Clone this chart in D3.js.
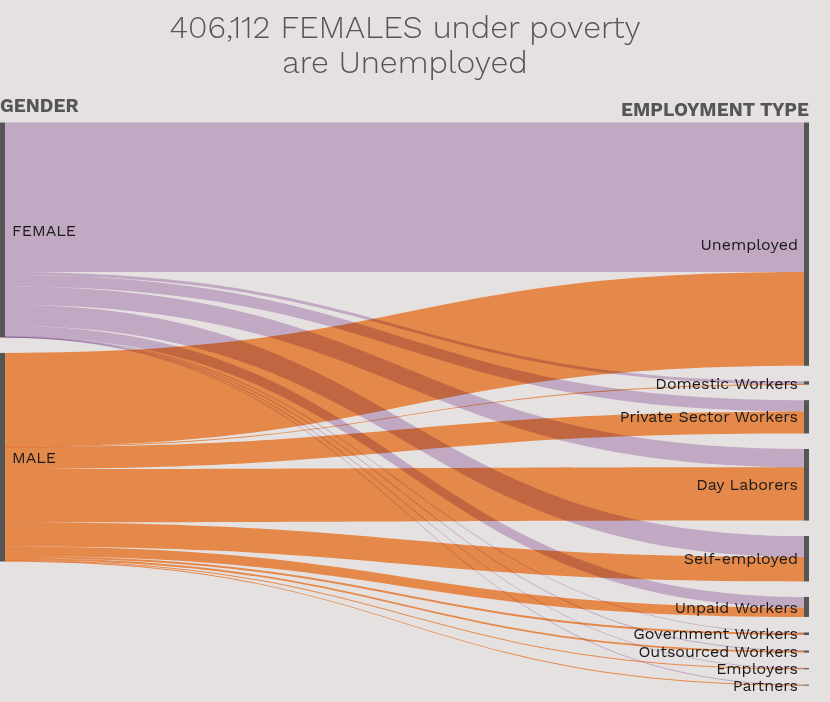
<!DOCTYPE html>
<html>
<head>
<meta charset="utf-8">
<script src="https://cdn.jsdelivr.net/npm/d3@7"></script>
<style>
  html, body { margin: 0; padding: 0; background: #e6e1e1; }
  svg { display: block; }
  .link { mix-blend-mode: multiply; }
</style>
</head>
<body>
<div id="chart"></div>
<script>
// Gender (source) and employment type (target) categories
var genders = ["FEMALE", "MALE"];
var types = ["Unemployed", "Domestic Workers", "Private Sector Workers", "Day Laborers",
  "Self-employed", "Unpaid Workers", "Government Workers", "Outsourced Workers",
  "Employers", "Partners"];

// People under poverty by employment type
var femaleValues = [406112, 8100, 30900, 49700, 57000, 28500, 1600, 800, 500, 300];
var maleValues = [254400, 1100, 59500, 144700, 66200, 25800, 5400, 4900, 2700, 1600];

// Link colours (multiplied on the background)
var genderColors = ["#d6c0de", "#fe9b55"];

var titleLines = ["406,112 FEMALES under poverty", "are Unemployed"];

var width = 830, height = 702;
var yTop = 122.5, yBottom = 685.5, pad = 15.5;
var nodeWidth = 5;

var svg = d3.select("#chart").append("svg")
  .attr("width", width)
  .attr("height", height);

svg.append("rect")
  .attr("width", width)
  .attr("height", height)
  .attr("fill", "#e6e1e1");

// Build the links table
var values = [femaleValues, maleValues];
var links = [];
genders.forEach(function(g, gi) {
  types.forEach(function(t, ti) {
    links.push({source: gi, target: ti, value: values[gi][ti]});
  });
});

var total = d3.sum(links, d => d.value);

// value -> pixels, right column is the tighter one
var ky = d3.scaleLinear()
  .domain([0, total])
  .range([0, yBottom - yTop - (types.length - 1) * pad]);

var x = d3.scaleLinear().domain([0, 1]).range([0, width - 21 - nodeWidth]);

// Node positions
function stack(names, sums) {
  var y = yTop;
  return names.map(function(name, i) {
    var n = {name: name, value: sums[i], y0: y, y1: y + ky(sums[i])};
    y = n.y1 + pad;
    return n;
  });
}
var leftNodes = stack(genders, values.map(v => d3.sum(v)));
var rightNodes = stack(types, types.map((t, i) => femaleValues[i] + maleValues[i]));

// Link offsets at both ends
var srcOffset = leftNodes.map(n => n.y0);
var tgtOffset = rightNodes.map(n => n.y0);
links.forEach(function(l) {
  l.w = ky(l.value);
  l.sy = srcOffset[l.source] + l.w / 2;
  srcOffset[l.source] += l.w;
});
// target side: female first, then male
types.forEach(function(t, ti) {
  genders.forEach(function(g, gi) {
    var l = links[gi * types.length + ti];
    l.ty = tgtOffset[ti] + l.w / 2;
    tgtOffset[ti] += l.w;
  });
});

var x0 = x(0) + nodeWidth, x1 = x(1), xm = (x0 + x1) / 2;

function band(d) {
  var h = Math.max(d.w, 0.9) / 2;
  return "M" + x0 + "," + (d.sy - h) +
    "C" + xm + "," + (d.sy - h) + " " + xm + "," + (d.ty - h) + " " + x1 + "," + (d.ty - h) +
    "L" + x1 + "," + (d.ty + h) +
    "C" + xm + "," + (d.ty + h) + " " + xm + "," + (d.sy + h) + " " + x0 + "," + (d.sy + h) + "Z";
}

svg.append("g")
  .selectAll("path")
  .data(links)
  .join("path")
  .attr("class", "link")
  .attr("d", band)
  .attr("fill", d => genderColors[d.source]);

// Nodes
svg.append("g")
  .selectAll("rect")
  .data(leftNodes)
  .join("rect")
  .attr("x", x(0))
  .attr("y", d => d.y0)
  .attr("width", nodeWidth)
  .attr("height", d => d.y1 - d.y0)
  .attr("fill", "#555");

svg.append("g")
  .selectAll("rect")
  .data(rightNodes)
  .join("rect")
  .attr("x", x(1))
  .attr("y", d => (d.y1 - d.y0) < 1 ? (d.y0 + d.y1) / 2 - 0.5 : d.y0)
  .attr("width", nodeWidth)
  .attr("height", d => Math.max(1, d.y1 - d.y0))
  .attr("fill", "#555");

// Node labels
var font = "'Work Sans', 'Open Sans', sans-serif";
svg.append("g")
  .selectAll("text")
  .data(leftNodes)
  .join("text")
  .attr("x", x(0) + nodeWidth + 7)
  .attr("y", d => (d.y0 + d.y1) / 2)
  .attr("dy", "0.35em")
  .attr("font-family", font)
  .attr("font-size", 16)
  .attr("fill", "#1a1a1a")
  .text(d => d.name);

svg.append("g")
  .selectAll("text")
  .data(rightNodes)
  .join("text")
  .attr("x", x(1) - 6)
  .attr("y", d => (d.y0 + d.y1) / 2)
  .attr("dy", "0.35em")
  .attr("text-anchor", "end")
  .attr("font-family", font)
  .attr("font-size", 16)
  .attr("fill", "#1a1a1a")
  .text(d => d.name);

// Column headers
svg.append("text")
  .attr("x", 0)
  .attr("y", 112)
  .attr("font-family", font)
  .attr("font-weight", 700)
  .attr("font-size", 19)
  .attr("fill", "#555")
  .text("GENDER");

svg.append("text")
  .attr("x", x(1) + nodeWidth)
  .attr("y", 116)
  .attr("text-anchor", "end")
  .attr("font-family", font)
  .attr("font-weight", 700)
  .attr("font-size", 19)
  .attr("fill", "#555")
  .text("EMPLOYMENT TYPE");

// Title
svg.append("g")
  .selectAll("text")
  .data(titleLines)
  .join("text")
  .attr("x", 405)
  .attr("y", (d, i) => 38 + i * 35)
  .attr("text-anchor", "middle")
  .attr("font-family", font)
  .attr("font-weight", 300)
  .attr("font-size", 32)
  .attr("fill", "#555")
  .text(d => d);
</script>
</body>
</html>
